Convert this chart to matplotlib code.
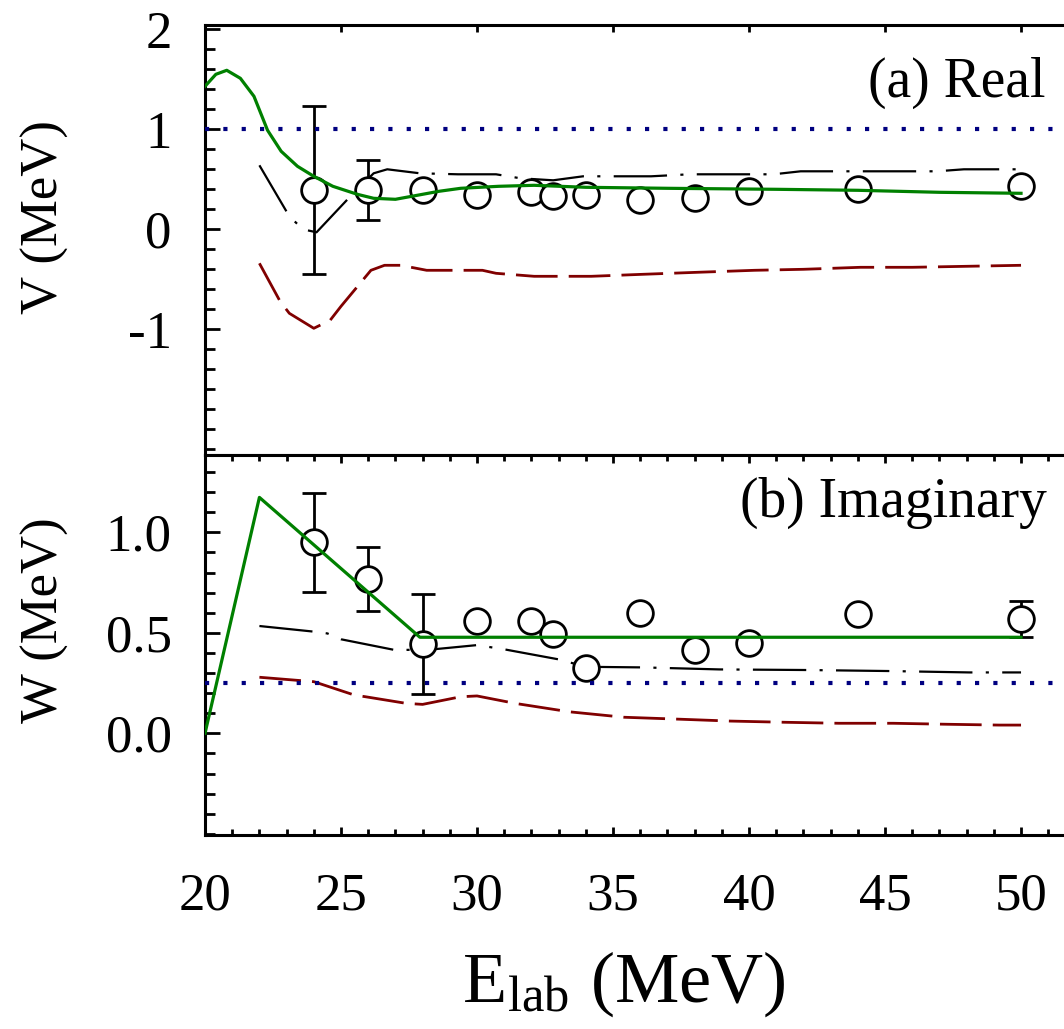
import numpy as np
import matplotlib
matplotlib.use("Agg")
import matplotlib.pyplot as plt
from matplotlib.ticker import FixedLocator, MultipleLocator, FormatStrFormatter, NullFormatter

plt.rcParams['font.family'] = ['Liberation Serif', 'DejaVu Serif']
plt.rcParams['mathtext.fontset'] = 'stix'
plt.rcParams['axes.unicode_minus'] = False

# ---- data -------------------------------------------------------------
E_data = [24, 26, 28, 30, 32, 32.8, 34, 36, 38, 40, 44, 50]
V_data = [0.39, 0.39, 0.39, 0.34, 0.37, 0.33, 0.34, 0.29, 0.31, 0.38, 0.40, 0.43]
V_err = [0.84, 0.30, 0, 0, 0, 0, 0, 0, 0, 0, 0, 0]
W_data = [0.950, 0.768, 0.444, 0.559, 0.559, 0.494, 0.323, 0.597, 0.414, 0.448, 0.592, 0.567]
W_err = [0.247, 0.158, 0.247, 0, 0, 0, 0, 0, 0, 0, 0, 0.09]

# real part: total fit (green), two components (black dash-dot, red dashed)
E_V_fit = [20, 20.4, 20.8, 21.3, 21.8, 22.3, 22.8, 23.4, 24.0, 24.7, 25.6, 26.2,
           27.0, 27.8, 28.6, 29.4, 30.8, 32.1, 34, 37, 41, 44, 47, 50]
V_fit = [1.43, 1.55, 1.59, 1.51, 1.33, 0.99, 0.78, 0.63, 0.53, 0.43, 0.35, 0.31,
         0.30, 0.34, 0.38, 0.41, 0.43, 0.44, 0.42, 0.41, 0.40, 0.39, 0.37, 0.36]
E_V_pos = [22.0, 23.1, 23.6, 24.1, 25.45, 26.2, 26.7, 27.9, 29.3, 30.7, 31.6, 32.8,
           33.9, 36.4, 37.8, 40.9, 41.9, 44.8, 46.9, 47.9, 50]
V_pos = [0.64, 0.13, 0.0, -0.03, 0.36, 0.56, 0.60, 0.56, 0.55, 0.55, 0.51, 0.49,
         0.53, 0.53, 0.55, 0.55, 0.58, 0.58, 0.58, 0.60, 0.60]
E_V_neg = [22.0, 22.76, 23.1, 24.0, 24.6, 25.0, 26.1, 26.6, 27.2, 28.15, 30.2, 30.7,
           32.1, 34.2, 36.1, 38.1, 40.2, 42.0, 44.1, 46.0, 48.0, 50]
V_neg = [-0.34, -0.72, -0.84, -0.99, -0.91, -0.77, -0.41, -0.36, -0.36, -0.41, -0.41, -0.44,
         -0.47, -0.47, -0.45, -0.43, -0.41, -0.40, -0.38, -0.38, -0.37, -0.36]
V_ref = 1.0

# imaginary part
E_W_fit = [20, 22.0, 27.9, 50]
W_fit = [0.0, 1.174, 0.478, 0.478]
E_W_a = [22.0, 24.0, 24.5, 25.0, 27.0, 28.4, 30.0, 31.0, 33.0, 34.0, 36.1, 38.9,
         42.1, 45.1, 48.1, 50]
W_a = [0.534, 0.506, 0.497, 0.468, 0.414, 0.418, 0.439, 0.418, 0.368, 0.331, 0.328, 0.318,
       0.315, 0.31, 0.303, 0.303]
E_W_b = [22.0, 24.0, 25.5, 25.9, 27.4, 28.0, 29.4, 30.0, 31.4, 33.4, 35.4, 37.5,
         39.3, 41.3, 43.3, 45.3, 47.3, 49.2, 50]
W_b = [0.279, 0.257, 0.19, 0.182, 0.149, 0.144, 0.182, 0.186, 0.149, 0.107, 0.08, 0.07,
       0.061, 0.055, 0.05, 0.05, 0.045, 0.041, 0.041]
W_ref = 0.25

V_ticks = [2, 1, 0, -1]
W_ticks = [0.0, 0.5, 1.0]
E_ticks = [20, 25, 30, 35, 40, 45, 50]

# ---- styles -----------------------------------------------------------
GREEN = '#008000'
DRED = '#800000'
NAVY = '#000080'
FS = 38

fig = plt.figure(figsize=(10.64, 10.29), dpi=100)
left, right = 205 / 1064, 1.0
ax1 = fig.add_axes([left, 1 - 455 / 1029, right - left, 430 / 1029])
ax2 = fig.add_axes([left, 1 - 835 / 1029, right - left, 380 / 1029])

xlim = (20, 51.58)


def draw_panel(ax, E_fit, Y_fit, E_a, Y_a, E_b, Y_b, Y, Yerr, yref):
    ax.axhline(yref, color=NAVY, lw=3.0, dashes=(1, 3.4), dash_capstyle='butt', zorder=6)
    ax.plot(E_b, Y_b, color=DRED, lw=2.0, dashes=(15, 4), zorder=2)
    ax.plot(E_a, Y_a, color='black', lw=1.6, dashes=(24, 6, 1.4, 6), zorder=2)
    E = np.array(E_data)
    Yv = np.array(Y)
    err = np.array(Yerr)
    m = err > 0
    ax.errorbar(E[m], Yv[m], yerr=err[m], fmt='none', ecolor='black',
                elinewidth=2.0, capsize=8.5, capthick=2.0, zorder=3)
    ax.plot(E, Yv, 'o', ms=18.5, mfc='white', mec='black', mew=2.0,
            ls='none', zorder=4)
    ax.plot(E_fit, Y_fit, color=GREEN, lw=2.3, zorder=5)
    ax.set_xlim(*xlim)
    for s in ax.spines.values():
        s.set_linewidth(2.2)
    ax.spines['right'].set_visible(False)


draw_panel(ax1, E_V_fit, V_fit, E_V_pos, V_pos, E_V_neg, V_neg, V_data, V_err, V_ref)
draw_panel(ax2, E_W_fit, W_fit, E_W_a, W_a, E_W_b, W_b, W_data, W_err, W_ref)

# real panel axes
ax1.set_ylim(-2.257, 2.043)
ax1.yaxis.set_major_locator(FixedLocator(V_ticks))
ax1.yaxis.set_major_formatter(FormatStrFormatter('%d'))
ax1.yaxis.set_minor_locator(MultipleLocator(0.2))
ax1.xaxis.set_major_locator(FixedLocator(E_ticks))
ax1.xaxis.set_major_formatter(NullFormatter())
ax1.tick_params(axis='y', which='major', direction='in', length=11, width=2.0,
                labelsize=FS, pad=24, right=False)
ax1.tick_params(axis='y', which='minor', direction='in', length=7, width=2.0, right=False)
ax1.tick_params(axis='x', which='major', direction='in', length=5, width=2.0,
                top=True, bottom=False, labelbottom=False)

# imaginary panel axes
ax2.set_ylim(-0.506, 1.385)
ax2.yaxis.set_major_locator(FixedLocator(W_ticks))
ax2.yaxis.set_major_formatter(FormatStrFormatter('%.1f'))
ax2.yaxis.set_minor_locator(MultipleLocator(0.1))
ax2.xaxis.set_major_locator(FixedLocator(E_ticks))
ax2.xaxis.set_major_formatter(FormatStrFormatter('%d'))
ax2.xaxis.set_minor_locator(MultipleLocator(1))
ax2.tick_params(axis='y', which='major', direction='in', length=11, width=2.0,
                labelsize=FS, pad=24, right=False)
ax2.tick_params(axis='y', which='minor', direction='in', length=7, width=2.0, right=False)
ax2.tick_params(axis='x', which='both', direction='in', top=True, bottom=True, width=2.0)
ax2.tick_params(axis='x', which='major', length=6, labelsize=FS, pad=27)
ax2.tick_params(axis='x', which='minor', length=4.5)

ax1.text(0.978, 0.833, '(a) Real', transform=ax1.transAxes, ha='right',
         va='baseline', fontsize=40)
ax2.text(0.980, 0.837, '(b) Imaginary', transform=ax2.transAxes, ha='right',
         va='baseline', fontsize=40)

fig.text(45 / 1064, 1 - 217 / 1029, 'V (MeV)', rotation=90, ha='center',
         va='center', fontsize=FS)
fig.text(45 / 1064, 1 - 620 / 1029, 'W (MeV)', rotation=90, ha='center',
         va='center', fontsize=FS)
fig.text(624 / 1064, 1 - 1002 / 1029, r'E$_{\mathregular{lab}}$ (MeV)', ha='center',
         va='baseline', fontsize=52)

fig.savefig('out.png', dpi=100)
